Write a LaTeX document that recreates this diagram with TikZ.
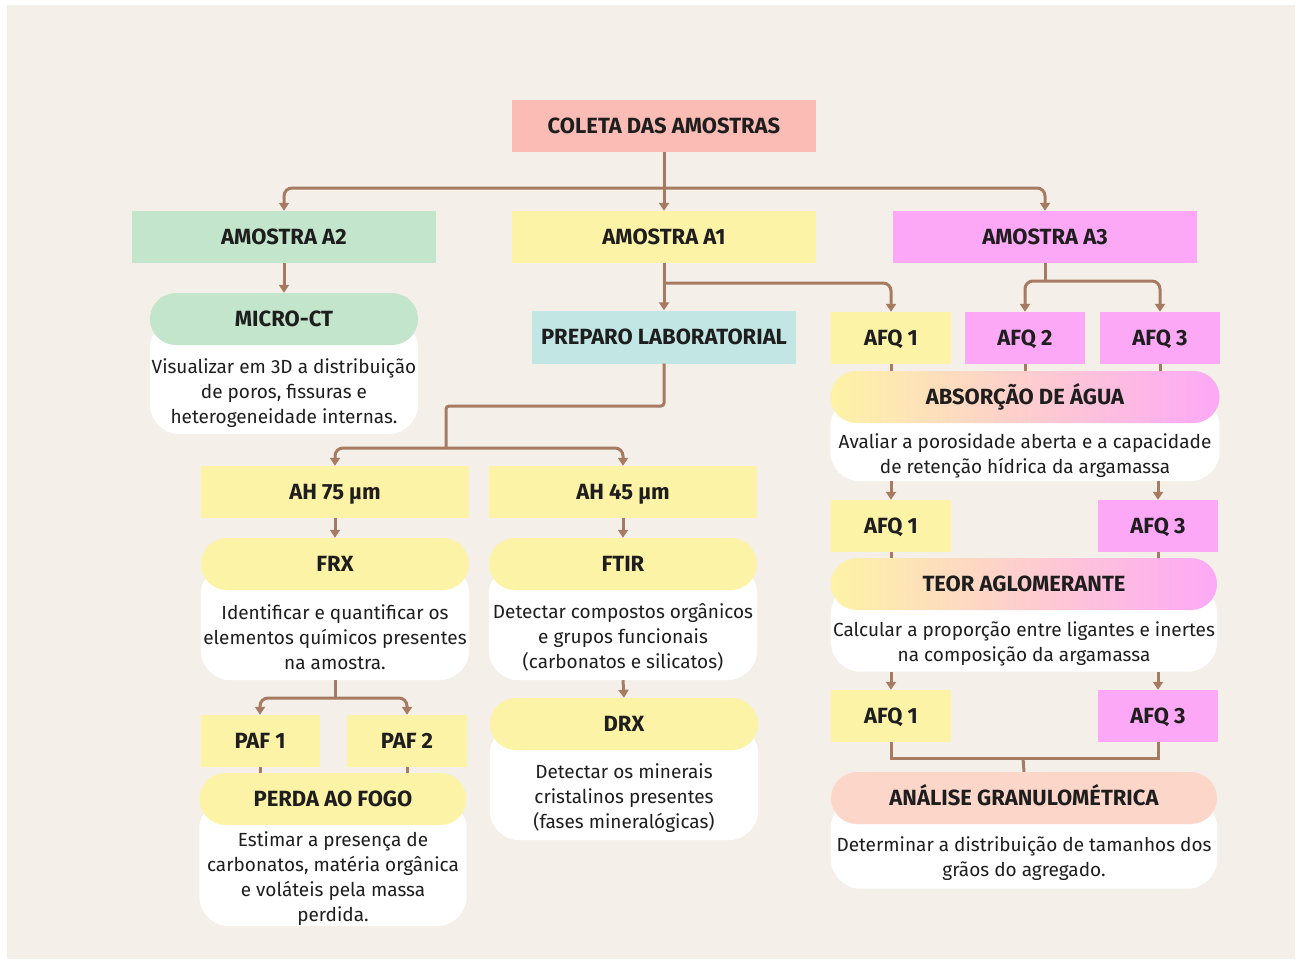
\documentclass[tikz,border=0pt]{standalone}
\usepackage{fontspec}
\setmainfont{Fira Sans}
\usetikzlibrary{arrows.meta,backgrounds}
\definecolor{paper}{HTML}{F4EFE9}
\definecolor{ink}{HTML}{1E1E1E}
\definecolor{linkc}{HTML}{A67B62}
\definecolor{salmon}{HTML}{FBBCB5}
\definecolor{mint}{HTML}{C3E5CB}
\definecolor{lemon}{HTML}{FDF3A6}
\definecolor{orchid}{HTML}{FDA8F6}
\definecolor{aqua}{HTML}{C2E6E3}
\definecolor{peach}{HTML}{FDD6CA}

\begin{document}
\begin{tikzpicture}[x=1pt,y=-1pt,>={Triangle[width=10pt,length=8pt]},
  hbox/.style={minimum width=#1,minimum height=52,inner sep=0pt,text=ink,
    text height=15pt,text depth=0pt,font=\bfseries\fontsize{22}{24}\selectfont},
  pill/.style={hbox=#1,rounded corners=26},
  mixpill/.style={pill=#1,left color=lemon,middle color=peach,right color=orchid},
  desc/.style={minimum width=#1,inner sep=0pt,align=center,text=ink,
    font=\fontsize{19}{25}\selectfont},
  link/.style={draw=linkc,line width=3pt},
  flow/.style={link,->}]
\useasboundingbox (0,0) rectangle (1301,959);

\node[hbox=304,fill=salmon] (coleta) at (664,126) {COLETA DAS AMOSTRAS};
\node[hbox=304,fill=mint] (a2) at (284,237) {AMOSTRA A2};
\node[hbox=304,fill=lemon] (a1) at (664,237) {AMOSTRA A1};
\node[hbox=304,fill=orchid] (a3) at (1045,237) {AMOSTRA A3};

% left column
\node[pill=268,fill=mint] (microh) at (284,319) {MICRO-CT};
\node[desc=268,minimum height=82] (microb) at (284,393)
  {Visualizar em 3D a distribuição\\de poros, fissuras e\\heterogeneidade internas.};

% centre column
\node[hbox=264,fill=aqua,minimum height=53] (preparo) at (664,337) {PREPARO LABORATORIAL};
\node[hbox=268,fill=lemon] (ah75) at (335,492) {AH 75 µm};
\node[hbox=268,fill=lemon] (ah45) at (623,492) {AH 45 µm};
\node[pill=268,fill=lemon] (frxh) at (335,564) {FRX};
\node[desc=268,minimum height=86] (frxb) at (335,637)
  {Identificar e quantificar os\\elementos químicos presentes\\na amostra.};
\node[pill=268,fill=lemon] (ftirh) at (623,564) {FTIR};
\node[desc=268,minimum height=86] (ftirb) at (623,637)
  {Detectar compostos orgânicos\\e grupos funcionais\\(carbonatos e silicatos)};
\node[pill=268,fill=lemon] (drxh) at (624,724) {DRX};
\node[desc=268,minimum height=84] (drxb) at (624,798)
  {Detectar os minerais\\cristalinos presentes\\(fases mineralógicas)};
\node[hbox=119,fill=lemon] (paf1) at (260,741) {PAF 1};
\node[hbox=120,fill=lemon] (paf2) at (407,741) {PAF 2};
\node[pill=267,fill=lemon] (perdah) at (333,799) {PERDA AO FOGO};
\node[desc=267,minimum height=89] (perdab) at (333,879)
  {Estimar a presença de\\carbonatos, matéria orgânica\\e voláteis pela massa\\perdida.};

% right column
\node[hbox=120,fill=lemon] (afq1a) at (891,338) {AFQ 1};
\node[hbox=120,fill=orchid] (afq2a) at (1025,338) {AFQ 2};
\node[hbox=120,fill=orchid] (afq3a) at (1160,338) {AFQ 3};
\node[mixpill=389] (absh) at (1025,397) {ABSORÇÃO DE ÁGUA};
\node[desc=389,minimum height=50] (absb) at (1025,456)
  {Avaliar a porosidade aberta e a capacidade\\de retenção hídrica da argamassa};
\node[hbox=120,fill=lemon] (afq1b) at (891,526) {AFQ 1};
\node[hbox=120,fill=orchid] (afq3b) at (1158,526) {AFQ 3};
\node[mixpill=386] (teorh) at (1024,584) {TEOR AGLOMERANTE};
\node[desc=386,minimum height=55] (teorb) at (1024,644)
  {Calcular a proporção entre ligantes e inertes\\na composição da argamassa};
\node[hbox=120,fill=lemon] (afq1c) at (891,716) {AFQ 1};
\node[hbox=120,fill=orchid] (afq3c) at (1158,716) {AFQ 3};
\node[pill=386,fill=peach] (analh) at (1024,798) {ANÁLISE GRANULOMÉTRICA};
\node[desc=386,minimum height=59] (analb) at (1024,859)
  {Determinar a distribuição de tamanhos dos\\grãos do agregado.};

\begin{scope}[on background layer]
\fill[white] (0,0) rectangle (1301,959);
\fill[paper] (7,5) rectangle (1295,959);
\foreach \h/\b in {microh/microb,frxh/frxb,ftirh/ftirb,drxh/drxb,perdah/perdab,absh/absb,teorh/teorb,analh/analb}
  \fill[white,rounded corners=30] (\h.west) rectangle (\b.south east);
\end{scope}

\coordinate (j0) at (664,188);
\coordinate (j1) at (664,283);
\coordinate (j2) at (1045,281);
\coordinate (j3) at (446,406);
\coordinate (j4) at (446,448);
\coordinate (j5) at (335,698);
\coordinate (j6) at (1023,758);

\draw[flow] (coleta.south) -- (a1.north);
\draw[flow,rounded corners=8] (j0) -| (a2.north);
\draw[flow,rounded corners=8] (j0) -| (a3.north);
\draw[flow] (a2.south) -- (microh.north);
\draw[flow] (a1.south) -- (preparo.north);
\draw[flow,rounded corners=8] (j1) -| (afq1a.north);
\draw[link] (a3.south) -- (j2);
\draw[flow,rounded corners=8] (j2) -| (afq2a.north);
\draw[flow,rounded corners=8] (j2) -| (afq3a.north);
\draw[link,rounded corners=3] (preparo.south) |- (j3) -- (j4);
\draw[flow,rounded corners=8] (j4) -| (ah75.north);
\draw[flow,rounded corners=8] (j4) -| (ah45.north);
\draw[flow] (ah75.south) -- (frxh.north);
\draw[flow] (ah45.south) -- (ftirh.north);
\draw[flow] (ftirb.south) -- (drxh.north);
\draw[link] (frxb.south) -- (j5);
\draw[flow,rounded corners=8] (j5) -| (paf1.north);
\draw[flow,rounded corners=8] (j5) -| (paf2.north);
\draw[link] (paf1.south) -- (paf1.south |- perdah.north);
\draw[link] (paf2.south) -- (paf2.south |- perdah.north);
\draw[link] (afq1a.south) -- (afq1a.south |- absh.north);
\draw[link] (afq2a.south) -- (afq2a.south |- absh.north);
\draw[link] (afq3a.south) -- (afq3a.south |- absh.north);
\draw[flow] (absb.south -| afq1b.north) -- (afq1b.north);
\draw[flow] (absb.south -| afq3b.north) -- (afq3b.north);
\draw[link] (afq1b.south) -- (afq1b.south |- teorh.north);
\draw[link] (afq3b.south) -- (afq3b.south |- teorh.north);
\draw[flow] (teorb.south -| afq1c.north) -- (afq1c.north);
\draw[flow] (teorb.south -| afq3c.north) -- (afq3c.north);
\draw[link] (afq1c.south) |- (j6) -| (afq3c.south);
\draw[link] (j6) -- (analh.north);
\end{tikzpicture}
\end{document}
